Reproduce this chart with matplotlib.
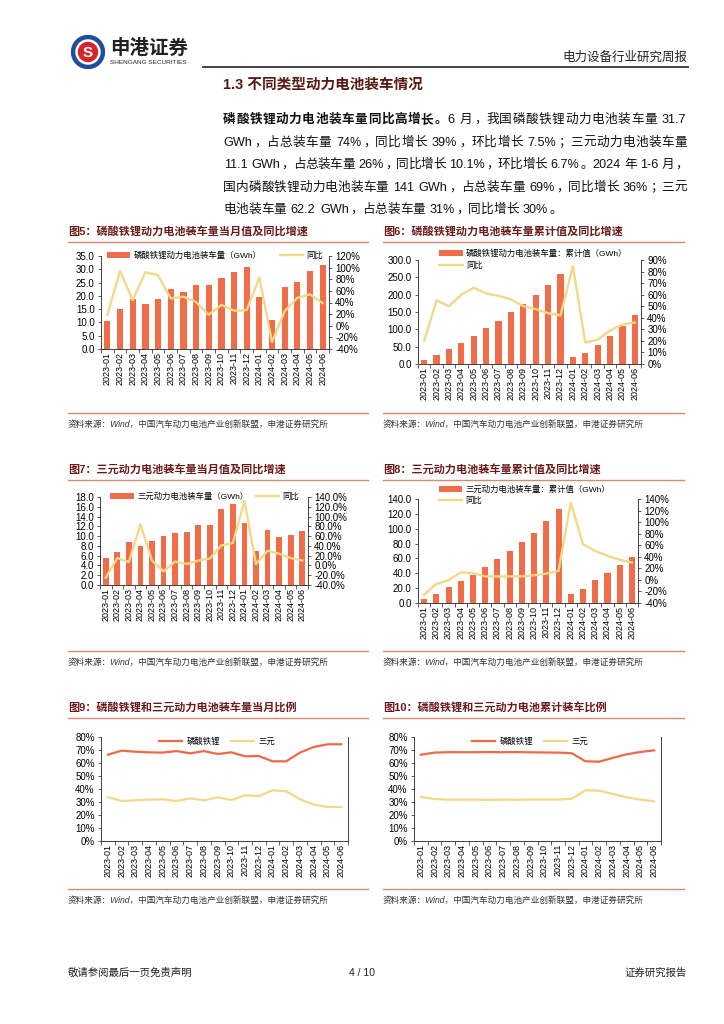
import re
import numpy as np
import matplotlib
matplotlib.use('Agg')
import matplotlib.pyplot as plt
from matplotlib.patches import Circle
from matplotlib.lines import Line2D
from matplotlib.ticker import FuncFormatter

FAM = ['Liberation Sans', 'Noto Sans CJK SC']
plt.rcParams['font.family'] = FAM

# ---------------- data ----------------
months = ['2023-01', '2023-02', '2023-03', '2023-04', '2023-05', '2023-06',
          '2023-07', '2023-08', '2023-09', '2023-10', '2023-11', '2023-12',
          '2024-01', '2024-02', '2024-03', '2024-04', '2024-05', '2024-06']

lfp_month = [10.6, 15.1, 18.9, 17.0, 19.0, 22.6, 21.6, 24.0, 24.0, 26.7, 28.9, 31.0,
             19.5, 10.9, 23.5, 25.3, 29.3, 31.7]
lfp_month_yoy = [19, 94, 44, 92, 87, 47, 50, 41, 19, 36, 26, 27, 83, -28, 25, 48, 54, 39]

lfp_cum = [10.6, 25.7, 44.6, 61.7, 80.8, 103.5, 125.0, 149.0, 173.0, 200.0, 229.0, 261.0,
           19.8, 30.8, 54.5, 80.0, 109.5, 141.0]
lfp_cum_yoy = [20, 55, 50, 60, 66, 61, 59, 56, 50, 47.5, 44, 42, 84.5, 18.6, 21, 29, 34, 36]

ncm_month = [5.5, 6.8, 8.8, 8.0, 9.0, 10.1, 10.6, 10.8, 12.2, 12.3, 15.6, 16.6,
             12.6, 6.9, 11.2, 9.9, 10.3, 11.1]
ncm_month_yoy = [-25, 15, 7, 84, 10, -12, 8, 3, 10, 14, 41, 46, 132, 3, 30, 24, 15, 10]

ncm_cum = [5.5, 12.3, 21.1, 29.1, 38.2, 48.3, 58.9, 69.7, 81.9, 94.2, 109.8, 126.4,
           12.6, 19.5, 30.7, 40.6, 50.9, 62.2]
ncm_cum_yoy = [-25.5, -7, -0.6, 13, 12, 6, 6, 6, 6, 8, 11, 15.5, 134, 62, 50, 41.6, 35, 30]

lfp_share_m = [66.4, 69.5, 68.7, 68.2, 68.0, 69.2, 67.4, 69.2, 66.9, 68.2, 65.1, 65.4,
               61.3, 61.3, 68.0, 72.3, 74.4, 74.4]
ncm_share_m = [33.8, 30.8, 31.3, 31.8, 32.1, 30.8, 32.8, 31.3, 33.6, 31.5, 35.1, 34.6,
               39.0, 38.2, 32.1, 28.0, 26.2, 26.2]

lfp_share_c = [66.4, 68.0, 68.3, 68.3, 68.3, 68.4, 68.3, 68.4, 68.2, 68.1, 68.0, 67.5,
               61.3, 61.0, 64.0, 66.7, 68.5, 69.7]
ncm_share_c = [33.8, 32.3, 31.8, 31.8, 31.8, 31.6, 31.8, 31.7, 31.9, 31.9, 31.9, 32.5,
               39.0, 38.7, 36.2, 33.6, 31.8, 30.5]

# ---------------- styles ----------------
BAR = '#EF6D48'
YEL = '#F3D888'
ORG = '#EE6A45'
TITLE_C = '#6B1A1A'
RULE_C = '#D98A6E'
SPINE_C = '#404040'

W, H = 724, 1024
fig = plt.figure(figsize=(7.24, 10.24), dpi=100)


def fx(x):
    return x / W


def fy(y):
    return 1 - y / H


def rect(l, t, r, b):
    return [l / W, 1 - b / H, (r - l) / W, (b - t) / H]


def hline(x0, x1, y, color, lw):
    fig.add_artist(Line2D([fx(x0), fx(x1)], [fy(y), fy(y)], color=color, lw=lw,
                          transform=fig.transFigure))


# ---------------- header ----------------
lax = fig.add_axes(rect(71, 35, 105, 69))
lax.set_xlim(-1, 1)
lax.set_ylim(-1, 1)
lax.set_aspect('equal')
lax.axis('off')
lax.add_patch(Circle((0, 0), 0.88, fc='white', ec='#1D4F9C', lw=3.2))
lax.add_patch(Circle((0, 0), 0.6, fc='#D7262B', ec='none'))
lax.text(0, -0.05, 'S', color='white', fontsize=11, weight='bold', ha='center', va='center')

fig.text(fx(110), fy(48), '申港证券', fontsize=14, weight='bold', va='center', ha='left',
         color='#222222')
fig.text(fx(110), fy(63), 'SHENGANG SECURITIES', fontsize=4.6, va='center', ha='left',
         color='#222222')
fig.text(fx(687), fy(58), '电力设备行业研究周报', fontsize=9, va='center', ha='right',
         color='#222222')
hline(203, 688, 67, '#444444', 1.4)

fig.text(fx(223), fy(85), '1.3 不同类型动力电池装车情况', fontsize=10.5, weight='bold',
         va='center', ha='left', color='#5A1A14')

# ---------------- body text (justified) ----------------
renderer = fig.canvas.get_renderer()
PUNCT = '，。；：、（）'


def layout_line(segments, x0, x1, yc, size, justify):
    em = size * 100 / 72
    ybase = yc + 0.36 * em
    toks = []
    for s, w in segments:
        for m in re.finditer(r'[A-Za-z0-9.%\-/]+| |[^A-Za-z0-9.%\-/ ]', s):
            toks.append((m.group(), w))
    items = []
    for t, w in toks:
        if t == ' ':
            items.append((None, 0.28 * em, 'sp'))
        elif ord(t[0]) > 127:
            kind = 'p' if t in PUNCT else 'c'
            txt = fig.text(0, fy(ybase), t, fontsize=size, weight=w, va='baseline',
                           ha='center' if kind == 'c' else 'left', color='#111111')
            items.append((txt, em, kind))
        else:
            txt = fig.text(0, fy(ybase), t, fontsize=size, weight=w, va='baseline',
                           ha='left', color='#111111')
            wd = txt.get_window_extent(renderer).width
            items.append((txt, wd + 0.1 * em, 'a'))
    total = sum(i[1] for i in items)
    extra = (x1 - x0 - total) / (len(items) - 1) if justify else 0
    x = x0
    for txt, wd, kind in items:
        if txt is not None:
            if kind == 'c':
                txt.set_x(fx(x + wd / 2))
            elif kind == 'p':
                txt.set_x(fx(x + 0.08 * em))
            else:
                txt.set_x(fx(x + 0.05 * em))
        x += wd + extra


BS = 9.1
body = [
    ([('磷酸铁锂动力电池装车量同比高增长。', 'bold'), ('6 月，我国磷酸铁锂动力电池装车量 31.7', 'normal')], True),
    ([('GWh，占总装车量 74%，同比增长 39%，环比增长 7.5%；三元动力电池装车量', 'normal')], True),
    ([('11.1 GWh，占总装车量 26%，同比增长 10.1%，环比增长 6.7%。2024 年 1-6 月，', 'normal')], True),
    ([('国内磷酸铁锂动力电池装车量 141 GWh，占总装车量 69%，同比增长 36%；三元', 'normal')], True),
    ([('电池装车量 62.2 GWh，占总装车量 31%，同比增长 30%。', 'normal')], False),
]
for (segs, just), yc in zip(body, [118, 141, 163, 186, 208]):
    layout_line(segs, 223, 687, yc, BS, just)

# ---------------- chart helpers ----------------
SRC = '资料来源：Wind，中国汽车动力电池产业创新联盟，申港证券研究所'


def frame(title, x0, x1, ytitle, ysrc):
    fig.text(fx(x0), fy(ytitle), title, fontsize=8, weight='bold', color=TITLE_C,
             va='center', ha='left')
    hline(x0, x1, ytitle + 10, RULE_C, 1.0)
    hline(x0, x1, ysrc - 11, RULE_C, 1.0)
    fig.text(fx(x0), fy(ysrc), SRC, fontsize=6.2, style='italic', color='#333333',
             va='center', ha='left')


def style_x(ax):
    x = np.arange(len(months))
    ax.set_xlim(-0.5, len(months) - 0.5)
    ax.set_xticks(x)
    ax.set_xticklabels(months, rotation=90, fontsize=6.5)
    ax.set_xticks(np.arange(-0.5, len(months), 1), minor=True)
    ax.tick_params(axis='x', which='major', length=0, pad=2)
    ax.tick_params(axis='x', which='minor', length=3, direction='out', color=SPINE_C, width=0.6)


def fmt(f):
    return FuncFormatter(lambda v, p: f % v)


def dual_chart(rpx, bars, line, ylim, ystep, yf, y2lim, y2step, y2f, bar_label,
               leg_anchor, ncol, colsp, labsp):
    ax = fig.add_axes(rect(*rpx))
    x = np.arange(len(months))
    ax.bar(x, bars, width=0.5, color=BAR, label=bar_label, zorder=2)
    style_x(ax)
    ax.set_ylim(*ylim)
    ax.set_yticks(np.arange(ylim[0], ylim[1] + 1e-9, ystep))
    ax.yaxis.set_major_formatter(fmt(yf))
    ax.tick_params(axis='y', labelsize=7, length=2.5, width=0.6, pad=2, color=SPINE_C)
    ax2 = ax.twinx()
    ax2.plot(x, line, color=YEL, lw=1.7, label='同比', zorder=3)
    ax2.set_ylim(*y2lim)
    ax2.set_yticks(np.arange(y2lim[0], y2lim[1] + 1e-9, y2step))
    ax2.yaxis.set_major_formatter(fmt(y2f))
    ax2.tick_params(axis='y', labelsize=7, length=2.5, width=0.6, pad=2, color=SPINE_C)
    for s in ['top', 'right']:
        ax.spines[s].set_visible(False)
    for s in ['top', 'left', 'bottom']:
        ax2.spines[s].set_visible(False)
    for a, ss in [(ax, ['left', 'bottom']), (ax2, ['right'])]:
        for s in ss:
            a.spines[s].set_color(SPINE_C)
            a.spines[s].set_linewidth(0.7)
    h1, l1 = ax.get_legend_handles_labels()
    h2, l2 = ax2.get_legend_handles_labels()
    ax2.legend(h1 + h2, l1 + l2, loc='upper left', bbox_to_anchor=leg_anchor, ncol=ncol,
               frameon=False, fontsize=6, handlelength=2.8, handletextpad=0.4,
               columnspacing=colsp, labelspacing=labsp, borderpad=0, borderaxespad=0)
    return ax, ax2


def share_chart(rpx, a, b):
    ax = fig.add_axes(rect(*rpx))
    x = np.arange(len(months))
    ax.plot(x, a, color=ORG, lw=1.6, label='磷酸铁锂')
    ax.plot(x, b, color=YEL, lw=1.6, label='三元')
    style_x(ax)
    ax.set_ylim(0, 80)
    ax.set_yticks(np.arange(0, 81, 10))
    ax.yaxis.set_major_formatter(fmt('%d%%'))
    ax.tick_params(axis='y', labelsize=7, length=2.5, width=0.6, pad=2, color=SPINE_C)
    ax.spines['top'].set_visible(False)
    for s in ['left', 'bottom', 'right']:
        ax.spines[s].set_color(SPINE_C)
        ax.spines[s].set_linewidth(0.7)
    ax.legend(loc='upper left', bbox_to_anchor=(0.235, 1.0), ncol=2, frameon=False,
              fontsize=6, handlelength=2.8, handletextpad=0.5, columnspacing=1.3,
              borderpad=0, borderaxespad=0)
    return ax


# ---------------- charts ----------------
frame('图5：磷酸铁锂动力电池装车量当月值及同比增速', 68, 368, 232, 424)
dual_chart((101, 256, 329, 349), lfp_month, lfp_month_yoy, (0, 35), 5, '%.1f',
           (-40, 120), 20, '%d%%', '磷酸铁锂动力电池装车量（GWh）',
           (0.025, 1.045), 2, 2.2, 0.5)

frame('图6：磷酸铁锂动力电池装车量累计值及同比增速', 383, 684, 232, 424)
dual_chart((418, 260, 641, 364), lfp_cum, lfp_cum_yoy, (0, 300), 50, '%.1f',
           (0, 90), 10, '%d%%', '磷酸铁锂动力电池装车量：累计值（GWh）',
           (0.095, 1.105), 1, 1.0, 0.55)

frame('图7：三元动力电池装车量当月值及同比增速', 68, 368, 470, 662)
dual_chart((100, 497, 308, 585), ncm_month, ncm_month_yoy, (0, 18), 2, '%.1f',
           (-40, 140), 20, '%.1f%%', '三元动力电池装车量（GWh）',
           (0.05, 1.045), 2, 0.9, 0.5)

frame('图8：三元动力电池装车量累计值及同比增速', 383, 684, 470, 662)
dual_chart((418, 499, 638, 603), ncm_cum, ncm_cum_yoy, (0, 140), 20, '%.1f',
           (-40, 140), 20, '%d%%', '三元动力电池装车量：累计值（GWh）',
           (0.095, 1.125), 1, 1.0, 0.35)

frame('图9：磷酸铁锂和三元动力电池装车量当月比例', 68, 368, 708, 900)
share_chart((101, 737, 348, 841), lfp_share_m, ncm_share_m)

frame('图10：磷酸铁锂和三元动力电池累计装车比例', 383, 684, 708, 900)
share_chart((414, 737, 661, 841), lfp_share_c, ncm_share_c)

# ---------------- footer ----------------
fig.text(fx(68), fy(973), '敬请参阅最后一页免责声明', fontsize=7.5, va='center', ha='left',
         color='#222222')
fig.text(fx(362), fy(973), '4 / 10', fontsize=7.5, va='center', ha='center', color='#222222')
fig.text(fx(687), fy(973), '证券研究报告', fontsize=7.5, va='center', ha='right',
         color='#222222')

fig.savefig('out.png', dpi=100)
